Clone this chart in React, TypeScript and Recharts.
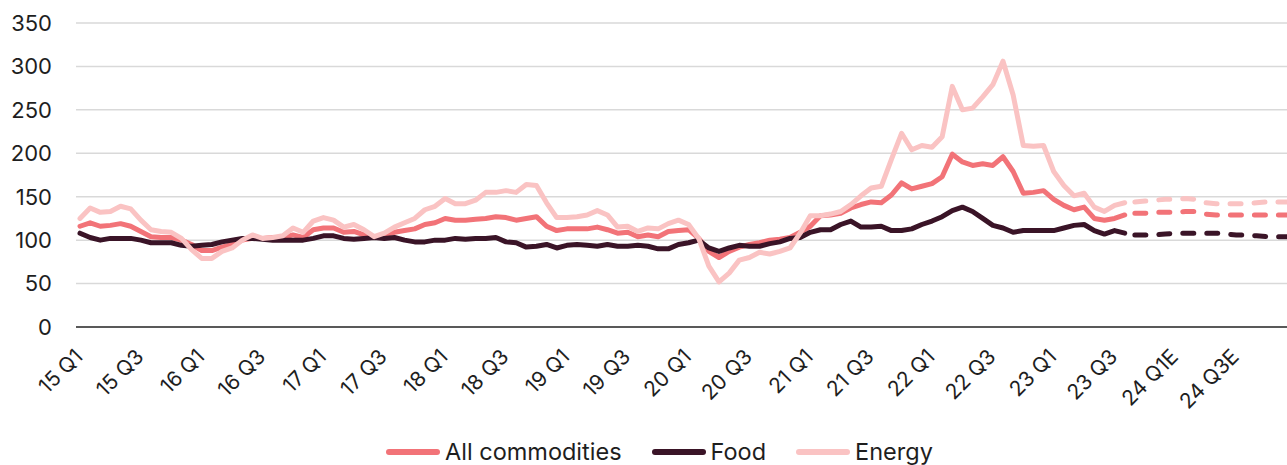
import React from 'react';
import { LineChart, Line, XAxis, YAxis, CartesianGrid } from 'recharts';

// Monthly index values, Jan 2015 – Aug 2023 (actuals)
const allHist = [
  116, 120, 116, 117, 119, 116, 110, 104, 103, 103, 100, 95,
  88, 88, 92, 95, 100, 102, 102, 103, 103, 106, 103, 112,
  114, 114, 109, 110, 106, 103, 106, 109, 111, 113, 118, 120,
  125, 123, 123, 124, 125, 127, 126, 123, 125, 127, 116, 111,
  113, 113, 113, 115, 112, 108, 109, 104, 106, 104, 110, 111,
  112, 102, 87, 80, 87, 92, 95, 97, 100, 101, 103, 109,
  116, 128, 129, 131, 137, 141, 144, 143, 152, 166, 159, 162,
  165, 173, 199, 190, 186, 188, 186, 196, 179, 154, 155, 157,
  147, 140, 135, 138, 125, 123, 125, 129,
];
const foodHist = [
  108, 103, 100, 102, 102, 102, 100, 97, 97, 97, 94, 93,
  94, 95, 98, 100, 102, 102, 101, 100, 100, 100, 100, 102,
  105, 105, 102, 101, 102, 103, 102, 103, 100, 98, 98, 100,
  100, 102, 101, 102, 102, 103, 98, 97, 92, 93, 95, 91,
  94, 95, 94, 93, 95, 93, 93, 94, 93, 90, 90, 95,
  97, 100, 91, 87, 91, 94, 93, 93, 96, 98, 102, 103,
  109, 112, 112, 118, 122, 115, 115, 116, 111, 111, 113, 118,
  122, 127, 134, 138, 133, 125, 117, 114, 109, 111, 111, 111,
  111, 114, 117, 118, 111, 107, 111, 108,
];
const energyHist = [
  125, 137, 132, 133, 139, 136, 123, 112, 110, 109, 102, 89,
  79, 79, 87, 91, 100, 106, 102, 103, 105, 114, 109, 122,
  126, 123, 115, 118, 112, 104, 108, 115, 120, 125, 135, 139,
  148, 142, 142, 146, 155, 155, 157, 155, 164, 163, 143, 126,
  126, 127, 129, 134, 129, 115, 116, 110, 114, 113, 119, 123,
  118, 102, 70, 52, 62, 77, 80, 86, 84, 87, 91, 108,
  128, 128, 130, 133, 141, 151, 160, 162, 193, 223, 204, 209,
  207, 219, 277, 250, 252, 265, 279, 306, 267, 209, 208, 209,
  179, 163, 151, 154, 138, 133, 140, 143,
];

// Forecast, Sep 2023 – Dec 2024 (dashed)
const allForecast = [131, 131, 132, 132, 132, 133, 133, 130, 129, 129, 129, 129, 129, 129, 129, 129];
const foodForecast = [106, 106, 106, 107, 108, 108, 108, 108, 108, 107, 106, 106, 105, 104, 104, 104];
const energyForecast = [144, 145, 146, 147, 147, 148, 147, 143, 142, 142, 142, 142, 143, 144, 144, 144];

const tickLabels = [
  '15 Q1', '15 Q3', '16 Q1', '16 Q3', '17 Q1', '17 Q3', '18 Q1', '18 Q3', '19 Q1', '19 Q3',
  '20 Q1', '20 Q3', '21 Q1', '21 Q3', '22 Q1', '22 Q3', '23 Q1', '23 Q3', '24 Q1E', '24 Q3E',
];
const yTicks = [0, 50, 100, 150, 200, 250, 300, 350];
const seriesNames = ['All commodities', 'Food', 'Energy'];
const seriesColors = ['#F27378', '#3A1427', '#FAC3C3'];

const START_YEAR = 2015;
const HIST_LEN = allHist.length;
const TOTAL = HIST_LEN + allForecast.length;
const months = Array.from(
  { length: TOTAL },
  (_, i) => `${START_YEAR + Math.floor(i / 12)}-${String((i % 12) + 1).padStart(2, '0')}`
);

const data = months.map((m, i) => {
  const h = i < HIST_LEN;
  const f = i - HIST_LEN;
  return {
    m,
    all: h ? allHist[i] : null,
    food: h ? foodHist[i] : null,
    energy: h ? energyHist[i] : null,
    allF: h ? null : allForecast[f],
    foodF: h ? null : foodForecast[f],
    energyF: h ? null : energyForecast[f],
  };
});

const tickValues = months.filter((_, i) => i % 6 === 0);
const tickLabelOf: Record<string, string> = {};
tickValues.forEach((m, k) => {
  tickLabelOf[m] = tickLabels[k];
});

const FONT = 'Inter, "Liberation Sans", sans-serif';

const XTick = (props: any) => {
  const { x, y, payload } = props;
  const tx = x + 4;
  const ty = y + 31;
  return (
    <text
      x={tx}
      y={ty}
      transform={`rotate(-45 ${tx} ${ty})`}
      textAnchor="end"
      fontSize={21}
      fontFamily={FONT}
      fill="#1e1e1e"
    >
      {tickLabelOf[payload.value]}
    </text>
  );
};

const seriesKeys = [
  ['all', 'allF'],
  ['food', 'foodF'],
  ['energy', 'energyF'],
];

export default function App() {
  return (
    <div
      style={{
        position: 'absolute',
        left: 0,
        top: 0,
        width: 1287,
        height: 465,
        background: '#fff',
        fontFamily: FONT,
        overflow: 'hidden',
      }}
    >
      <LineChart width={1287} height={465} data={data} margin={{ top: 23, right: 0, bottom: 0, left: 0 }}>
        <CartesianGrid vertical={false} stroke="#D9D9D9" strokeWidth={1.5} />
        <XAxis
          dataKey="m"
          ticks={tickValues}
          interval={0}
          tick={<XTick />}
          tickLine={false}
          tickSize={0}
          tickMargin={0}
          axisLine={{ stroke: '#2b2b2b', strokeWidth: 1.5 }}
          height={138}
          padding={{ left: 4, right: 0 }}
        />
        <YAxis
          domain={[0, 350]}
          ticks={yTicks}
          interval={0}
          width={76}
          axisLine={false}
          tickLine={false}
          tickSize={0}
          tickMargin={24}
          tick={{ fill: '#1e1e1e', fontSize: 22, fontFamily: FONT }}
        />
        {seriesKeys.map(([k], idx) => (
          <Line
            key={k}
            type="linear"
            dataKey={k}
            stroke={seriesColors[idx]}
            strokeWidth={5}
            strokeLinejoin="round"
            strokeLinecap="round"
            dot={false}
            activeDot={false}
            isAnimationActive={false}
          />
        ))}
        {seriesKeys.map(([, kf], idx) => (
          <Line
            key={kf}
            type="linear"
            dataKey={kf}
            stroke={seriesColors[idx]}
            strokeWidth={5}
            strokeLinejoin="round"
            strokeLinecap="round"
            strokeDasharray="11 13"
            dot={false}
            activeDot={false}
            isAnimationActive={false}
          />
        ))}
      </LineChart>
      <div
        style={{
          position: 'absolute',
          left: 386,
          top: 440,
          display: 'flex',
          alignItems: 'center',
          fontSize: 23.5,
          lineHeight: '24px',
          height: 24,
          color: '#1e1e1e',
          whiteSpace: 'nowrap',
        }}
      >
        {seriesNames.map((n, i) => (
          <div key={n} style={{ display: 'flex', alignItems: 'center', marginRight: 30 }}>
            <span
              style={{
                display: 'inline-block',
                width: 54,
                height: 6,
                borderRadius: 3,
                background: seriesColors[i],
                marginRight: 5,
              }}
            />
            <span>{n}</span>
          </div>
        ))}
      </div>
    </div>
  );
}
